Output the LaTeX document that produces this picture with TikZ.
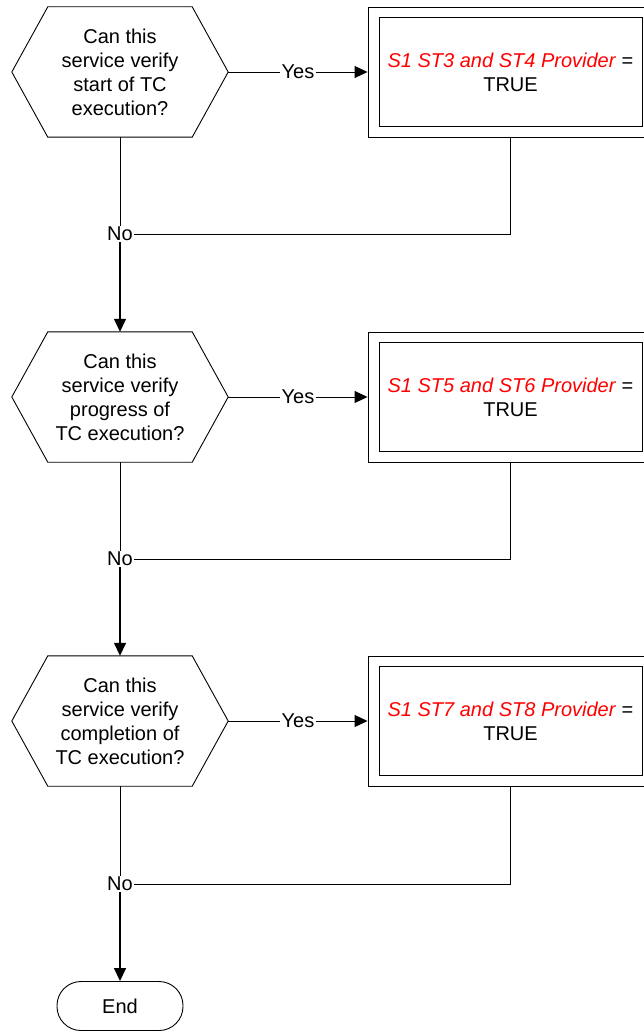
\documentclass[tikz,border=0pt]{standalone}
\usepackage{fontspec}
\setmainfont{Liberation Sans}
\usetikzlibrary{arrows.meta}
\begin{document}
\begin{tikzpicture}[x=1pt,y=-1pt,
  ln/.style={draw=black, line width=0.9pt},
  arr/.style={ln, -{Triangle[length=13pt,width=12pt]}},
  varr/.style={arr, line width=1.4pt},
  txt/.style={font=\fontsize{20}{24}\selectfont, align=center},
  qnode/.style={txt, minimum width=216pt, minimum height=130pt, inner sep=0pt},
  outerbox/.style={ln, minimum width=285pt, minimum height=130pt, inner sep=0pt},
  innerbox/.style={ln, txt, minimum width=263pt, minimum height=109pt, inner sep=0pt},
  lbl/.style={txt, inner sep=1pt},
  endnode/.style={ln, txt, rounded corners=24pt, minimum width=126pt, minimum height=49pt, inner sep=0pt}
]
\clip (0,0) rectangle (644,1032);
\newcommand{\hexa}[1]{\draw[ln] (#1.west) -- ([xshift=36pt]#1.north west) -- ([xshift=-36pt]#1.north east) -- (#1.east) -- ([xshift=-36pt]#1.south east) -- ([xshift=36pt]#1.south west) -- cycle;}

% decision 1
\node[qnode] (q1) at (120,72) {Can this\\service verify\\start of TC\\execution?};
\hexa{q1}
\node[outerbox] (b1) at (510.5,72) {};
\node[innerbox] (i1) at (510.5,72) {\textcolor{red}{\textit{S1 ST3 and ST4 Provider}} =\\TRUE};
\node[lbl] (y1) at (298,72) {Yes};
\node[lbl] (n1) at (120,234) {No};

% decision 2
\node[qnode] (q2) at (120,397) {Can this\\service verify\\progress of\\TC execution?};
\hexa{q2}
\node[outerbox] (b2) at (510.5,397) {};
\node[innerbox] (i2) at (510.5,397) {\textcolor{red}{\textit{S1 ST5 and ST6 Provider}} =\\TRUE};
\node[lbl] (y2) at (298,397) {Yes};
\node[lbl] (n2) at (120,559) {No};

% decision 3
\node[qnode] (q3) at (120,721) {Can this\\service verify\\completion of\\TC execution?};
\hexa{q3}
\node[outerbox] (b3) at (510.5,721) {};
\node[innerbox] (i3) at (510.5,721) {\textcolor{red}{\textit{S1 ST7 and ST8 Provider}} =\\TRUE};
\node[lbl] (y3) at (298,721) {Yes};
\node[lbl] (n3) at (120,884) {No};

\node[endnode] (e) at (120,1006) {End};

% connectors
\foreach \i/\nx in {1/q2,2/q3,3/e} {
  \draw[ln] (q\i.east) -- (y\i.west);
  \draw[arr] (y\i.east) -- (b\i.west);
  \draw[ln] (q\i.south) -- (n\i.north);
  \draw[ln] (n\i.east) -| (b\i.south);
  \draw[varr] (n\i.south) -- (\nx.north);
}
\end{tikzpicture}
\end{document}
